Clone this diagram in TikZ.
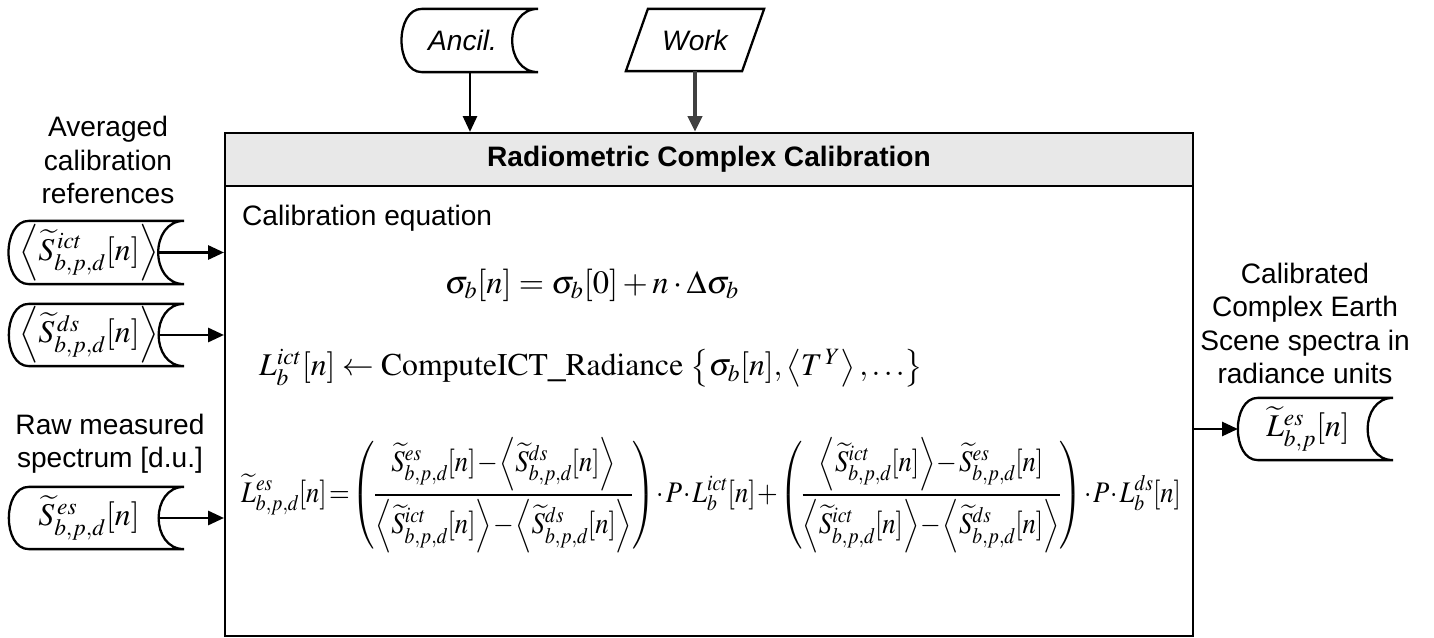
\documentclass[tikz,border=0pt]{standalone}
\usepackage{mathptmx}
\usepackage[no-math]{fontspec}
\setmainfont{Liberation Sans}
\usetikzlibrary{arrows.meta}

\tikzset{
  stored/.style={inner sep=0pt, font=\fontsize{18}{22}\selectfont},
  txt/.style={font=\fontsize{16}{19}\selectfont, align=center, inner sep=0pt},
  eq/.style={font=\fontsize{18}{22}\selectfont, inner sep=0pt},
  flow/.style={line width=1.4pt, -{Triangle[length=9pt,width=8pt]}}
}

\begin{document}
\begin{tikzpicture}[x=0.02cm, y=-0.02cm, line width=1.3pt]
\useasboundingbox (0,0) rectangle (1434,638);

\node[draw, minimum width=19.36cm, minimum height=10.06cm, inner sep=0pt] (calib) at (709,384.5) {};
\node[draw, fill=black!9, minimum width=19.36cm, minimum height=1.06cm, anchor=north,
  font=\fontsize{16}{19}\selectfont\bfseries] (title) at (calib.north) {Radiometric Complex Calibration};

\node[stored, minimum width=3.46cm, minimum height=1.22cm] (avgict) at (96.5,252.5)
  {$\left\langle\widetilde{S}^{\,ict}_{b,p,d}[n]\right\rangle$\hspace*{0.3cm}};
\node[stored, minimum width=3.46cm, minimum height=1.2cm] (avgds) at (96.5,335)
  {$\left\langle\widetilde{S}^{\,ds}_{b,p,d}[n]\right\rangle$\hspace*{0.3cm}};
\node[stored, minimum width=3.46cm, minimum height=1.2cm] (rawes) at (96.5,518)
  {$\widetilde{S}^{\,es}_{b,p,d}[n]$\hspace*{0.3cm}};
\node[stored, minimum width=2.68cm, minimum height=1.22cm, font=\fontsize{16}{19}\selectfont\itshape] (ancil) at (470,40.5)
  {Ancil.\hspace*{0.3cm}};
\node[stored, minimum width=3.06cm, minimum height=1.2cm] (outes) at (1315.5,429)
  {$\widetilde{L}^{es}_{b,p}[n]$\hspace*{0.3cm}};
\node[stored, minimum width=2.72cm, minimum height=1.2cm, font=\fontsize{16}{19}\selectfont\itshape] (work) at (695,40) {Work};

\foreach \n in {avgict,avgds,rawes,ancil,outes}
  \draw ([xshift=0.4cm]\n.north west) -- (\n.north east)
    to[out=180,in=180,looseness=1.4] (\n.south east)
    -- ([xshift=0.4cm]\n.south west)
    to[out=180,in=180,looseness=1.1] ([xshift=0.4cm]\n.north west);
\draw (work.south west) -- ([xshift=0.44cm]work.north west) -- (work.north east)
  -- ([xshift=-0.44cm]work.south east) -- cycle;

\draw[flow] (ancil.south) -- (ancil.south |- calib.north);
\draw[flow, line width=2.4pt, black!75] (work.south) -- (work.south |- calib.north);
\foreach \n in {avgict,avgds,rawes}
  \draw[flow] ([xshift=-0.5cm]\n.east) -- (calib.west |- \n.east);
\draw[flow] (calib.east |- outes.west) -- (outes.west);

\node[txt] (avglabel) at (108,160) {Averaged\\calibration\\references};
\node[txt] (rawlabel) at (110,443.5) {Raw measured\\spectrum [d.u.]};
\node[txt] (outlabel) at (1305,323.5) {Calibrated\\Complex Earth\\Scene spectra in\\radiance units};
\node[txt, anchor=west] (caleq) at (241,218) {Calibration equation};

\node[eq, font=\fontsize{18.5}{22}\selectfont] (sigma) at (592,285)
  {$\sigma_b[n]=\sigma_b[0]+n\cdot\Delta\sigma_b$};
\node[eq, anchor=west] (radiance) at (258,368)
  {$L^{ict}_b[n]\leftarrow\mathrm{ComputeICT\_Radiance}\,\left\{\sigma_b[n],\left\langle T^{\,Y}\right\rangle,\ldots\right\}$};
\node[eq, anchor=west, font=\fontsize{17}{20}\selectfont] (lcal) at (240,495)
  {\scalebox{0.89}[1]{$\medmuskip=1mu\thickmuskip=1.5mu\nulldelimiterspace=0pt\scriptspace=0pt\displaystyle
  \widetilde{L}^{es}_{b,p,d}[n]=\left(\frac{\widetilde{S}^{es}_{b,p,d}[n]-\left\langle\widetilde{S}^{ds}_{b,p,d}[n]\right\rangle}{\left\langle\widetilde{S}^{ict}_{b,p,d}[n]\right\rangle-\left\langle\widetilde{S}^{ds}_{b,p,d}[n]\right\rangle}\right)\cdot P\cdot L^{ict}_b[n]+\left(\frac{\left\langle\widetilde{S}^{ict}_{b,p,d}[n]\right\rangle-\widetilde{S}^{es}_{b,p,d}[n]}{\left\langle\widetilde{S}^{ict}_{b,p,d}[n]\right\rangle-\left\langle\widetilde{S}^{ds}_{b,p,d}[n]\right\rangle}\right)\cdot P\cdot L^{ds}_b[n]$}};
\end{tikzpicture}
\end{document}
